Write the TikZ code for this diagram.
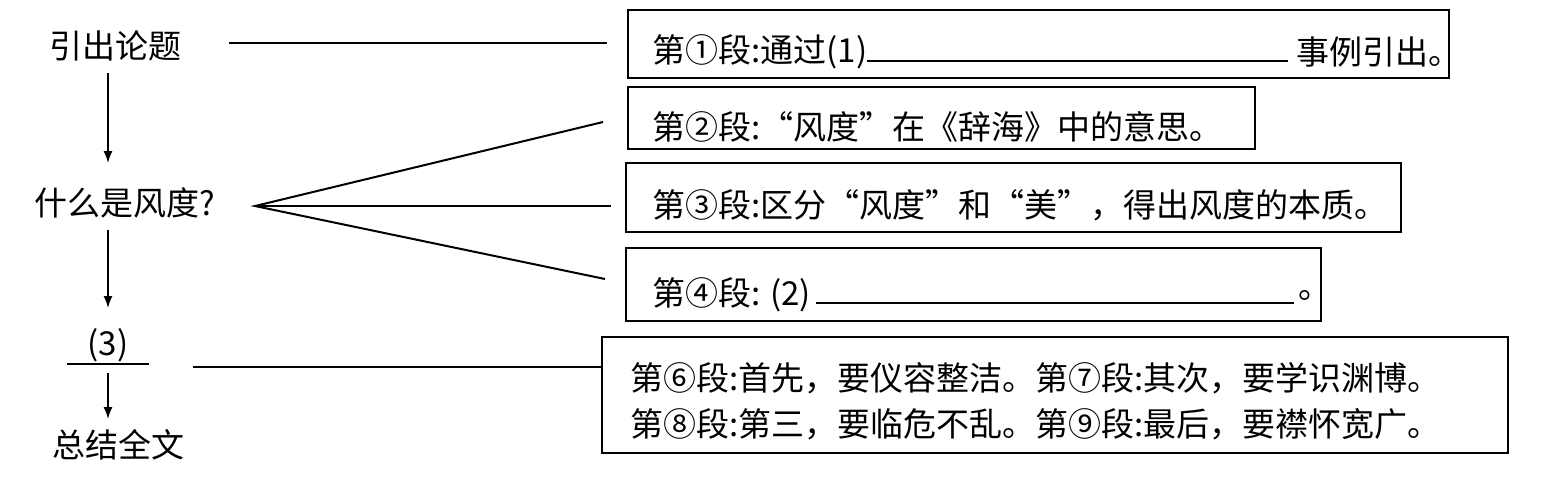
\documentclass[tikz,border=0pt]{standalone}
\usepackage{fontspec}
\setmainfont{Noto Sans CJK SC}
\usetikzlibrary{arrows.meta}
\begin{document}
\begin{tikzpicture}[x=0.5pt,y=-0.5pt,
  box/.style={draw, line width=1pt, inner sep=0pt, anchor=north west},
  txt/.style={inner sep=0pt, font=\fontsize{16.5pt}{20pt}\selectfont},
  ltxt/.style={txt, anchor=west},
  lnk/.style={line width=1pt},
  blank/.style={line width=0.8pt},
  arr/.style={line width=0.8pt, -{Latex[length=6pt,width=4.5pt]}}]
\useasboundingbox (0,0) rectangle (1551,479);

% boxes
\node[box, minimum width=410.5pt, minimum height=34pt] (b1) at (627,9) {};
\node[box, minimum width=313.5pt, minimum height=31pt] (b2) at (627,86) {};
\node[box, minimum width=387.5pt, minimum height=34.5pt] (b3) at (625,162) {};
\node[box, minimum width=347.5pt, minimum height=36.5pt] (b4) at (625,247) {};
\node[box, minimum width=453pt, minimum height=58pt] (b5) at (601,336) {};

% box texts
\node[ltxt] (b1a) at (652,52) {第①段:通过(1)};
\node[ltxt] (b1b) at (1296,52) {事例引出。};
\coordinate (u1a) at (867,61); \coordinate (u1b) at (1288,61);
\draw[blank] (u1a) -- (u1b);
\node[ltxt] (b2a) at (652,127) {第②段:“风度”在《辞海》中的意思。};
\node[ltxt] (b3a) at (652,205) {第③段:区分“风度”和“美”，得出风度的本质。};
\node[ltxt] (b4a) at (652,295) {第④段: (2)};
\coordinate (u4a) at (816,303); \coordinate (u4b) at (1294,303);
\draw[blank] (u4a) -- (u4b);
\node[ltxt] (b4b) at (1298,295) {。};
\node[ltxt] (b5a) at (630,378) {第⑥段:首先，要仪容整洁。第⑦段:其次，要学识渊博。};
\node[ltxt] (b5b) at (630,424) {第⑧段:第三，要临危不乱。第⑨段:最后，要襟怀宽广。};

% left column
\node[txt] (t1) at (115,46) {引出论题};
\node[txt] (t2) at (125,203) {什么是风度?};
\node[txt] (t3) at (108,345) {(3)};
\node[txt] (t4) at (118,445) {总结全文};
\coordinate (u3a) at (67,364); \coordinate (u3b) at (149,364);
\draw[blank] (u3a) -- (u3b);

% arrows
\coordinate (a1s) at (108,73);  \coordinate (a1e) at (108,163);
\coordinate (a2s) at (108,230); \coordinate (a2e) at (108,308);
\coordinate (a3s) at (108,373); \coordinate (a3e) at (108,419);
\draw[arr] (a1s) -- (a1e);
\draw[arr] (a2s) -- (a2e);
\draw[arr] (a3s) -- (a3e);

% links
\coordinate (l1s) at (229,43); \coordinate (l1e) at (607,43);
\draw[lnk] (l1s) -- (l1e);
\coordinate (fan) at (255,206);
\coordinate (f2) at (603,122);
\coordinate (f3) at (611,206);
\coordinate (f4) at (605,279);
\draw[lnk] (f2) -- (fan) -- (f4);
\draw[lnk] (fan) -- (f3);
\coordinate (l5s) at (193,367);
\draw[lnk] (l5s) -- (l5s -| b5.west);
\end{tikzpicture}
\end{document}
